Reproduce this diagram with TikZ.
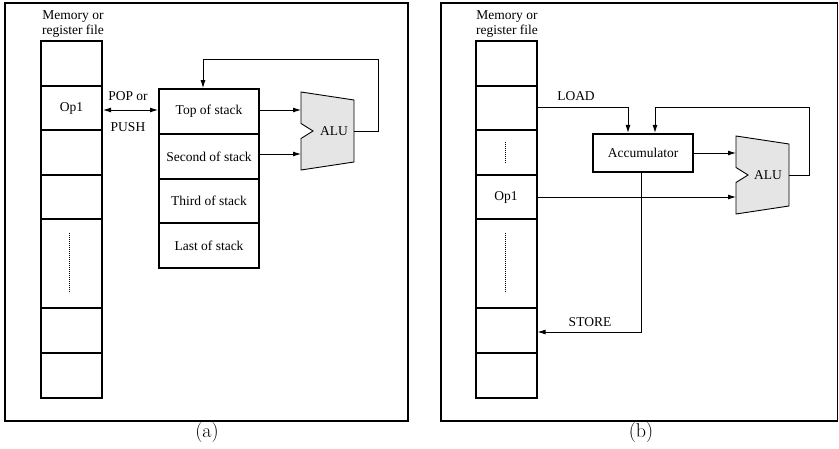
\documentclass[tikz,border=0pt]{standalone}
\usepackage{fontspec}
\newfontfamily\tms{Liberation Serif}
\usetikzlibrary{arrows.meta,calc}
\begin{document}
\begin{tikzpicture}[x=1pt,y=-1pt,
  lbl/.style={font=\tms\fontsize{13.5}{15}\selectfont, inner sep=0pt},
  cell/.style={draw, line width=2pt, minimum width=61pt, minimum height=44.5pt, inner sep=0pt, font=\tms\fontsize{13.5}{15}\selectfont},
  tall/.style={cell, minimum height=89pt},
  scell/.style={draw, line width=2pt, minimum width=100pt, minimum height=44.75pt, inner sep=0pt, font=\tms\fontsize{13.5}{15}\selectfont},
  frame/.style={draw, line width=1.8pt},
  conn/.style={line width=0.9pt},
  arr/.style={conn, -{Latex[length=8pt,width=5pt]}},
  darr/.style={conn, {Latex[length=8pt,width=5pt]}-{Latex[length=8pt,width=5pt]}},
  alu/.style={draw, line width=0.9pt, fill=black!10},
  dots/.style={line width=0.9pt, dash pattern=on 0.8pt off 1.2pt},
  captxt/.style={font=\fontsize{20}{24}\selectfont, inner sep=0pt}
]
\useasboundingbox (0,0) rectangle (839,449);
% frames
\draw[frame] (5,3) rectangle (408,421);
\draw[frame] (441,3) rectangle (837.5,421);
\node[captxt] (capa) at (207,433) {(a)};
\node[captxt] (capb) at (641,433) {(b)};

% ===== panel (a) =====
\node[lbl] (mla1) at (73,17) {Memory or};
\node[lbl] (mla2) at (73,31) {register file};
\node[cell] (a1) at (71.5,63.5) {};
\node[cell] (a2) at (71.5,108) {Op1};
\node[cell] (a3) at (71.5,152.5) {};
\node[cell] (a4) at (71.5,197) {};
\node[tall] (a5) at (71.5,263.5) {};
\node[cell] (a6) at (71.5,330.5) {};
\node[cell] (a7) at (71.5,375.5) {};
\draw[dots] (69,233) -- (69,293);

\node[scell] (s1) at (209,111.5) {Top of stack};
\node[scell] (s2) at (209,156.5) {Second of stack};
\node[scell] (s3) at (209,201) {Third of stack};
\node[scell] (s4) at (209,245.5) {Last of stack};

\draw[darr] (a2.east |- 0,110) -- (s1.west |- 0,110);
\node[lbl] (pop) at (128,96) {POP or};
\node[lbl] (push) at (128,127) {PUSH};

\draw[alu] (301,92) -- (354,100) -- (354,162) -- (301,170) -- (301,138.5) -- (313,131) -- (301,123.5) -- cycle;
\node[lbl] (alua) at (334,131) {ALU};
\coordinate (aluaL) at (301,131);
\coordinate (aluaR) at (354,131);
\draw[arr] (s1.east |- 0,110) -- (aluaL |- 0,110);
\draw[arr] (s2.east |- 0,154) -- (aluaL |- 0,154);
\coordinate (fba) at (203,59);
\draw[arr] (aluaR) -- (378,131) |- (fba) -- (fba |- s1.north);

% ===== panel (b) =====
\node[lbl] (mlb1) at (507,17) {Memory or};
\node[lbl] (mlb2) at (507,31) {register file};
\node[cell] (b1) at (506,63.5) {};
\node[cell] (b2) at (506,108) {};
\node[cell] (b3) at (506,152.5) {};
\node[cell] (b4) at (506,197) {Op1};
\node[tall] (b5) at (506,263.5) {};
\node[cell] (b6) at (506,330.5) {};
\node[cell] (b7) at (506,375.5) {};
\draw[dots] (505,142) -- (505,163);
\draw[dots] (505,233) -- (505,293);

\node[draw, line width=2.2pt, minimum width=100pt, minimum height=38pt, inner sep=0pt, font=\tms\fontsize{13.5}{15}\selectfont] (acc) at (643,153) {Accumulator};

\draw[alu] (736,136) -- (789,144) -- (789,206) -- (736,214) -- (736,182.5) -- (748,175) -- (736,167.5) -- cycle;
\node[lbl] (alub) at (768,175) {ALU};
\coordinate (alubL) at (736,175);
\coordinate (alubR) at (789,175);

\draw[arr] (b2.east |- 0,107) -| ([xshift=-15pt]acc.north);
\node[lbl] (load) at (576,96) {LOAD};
\draw[arr] (acc.east) -- (alubL |- acc.east);
\draw[arr] (b4.east) -- (alubL |- b4.east);
\draw[arr] (alubR) -- (809,175) |- (655,107) -- ([xshift=12pt]acc.north);
\draw[arr] ([xshift=-2pt]acc.south) |- (b6.east |- 0,332);
\node[lbl] (store) at (590,322) {STORE};
\end{tikzpicture}
\end{document}
